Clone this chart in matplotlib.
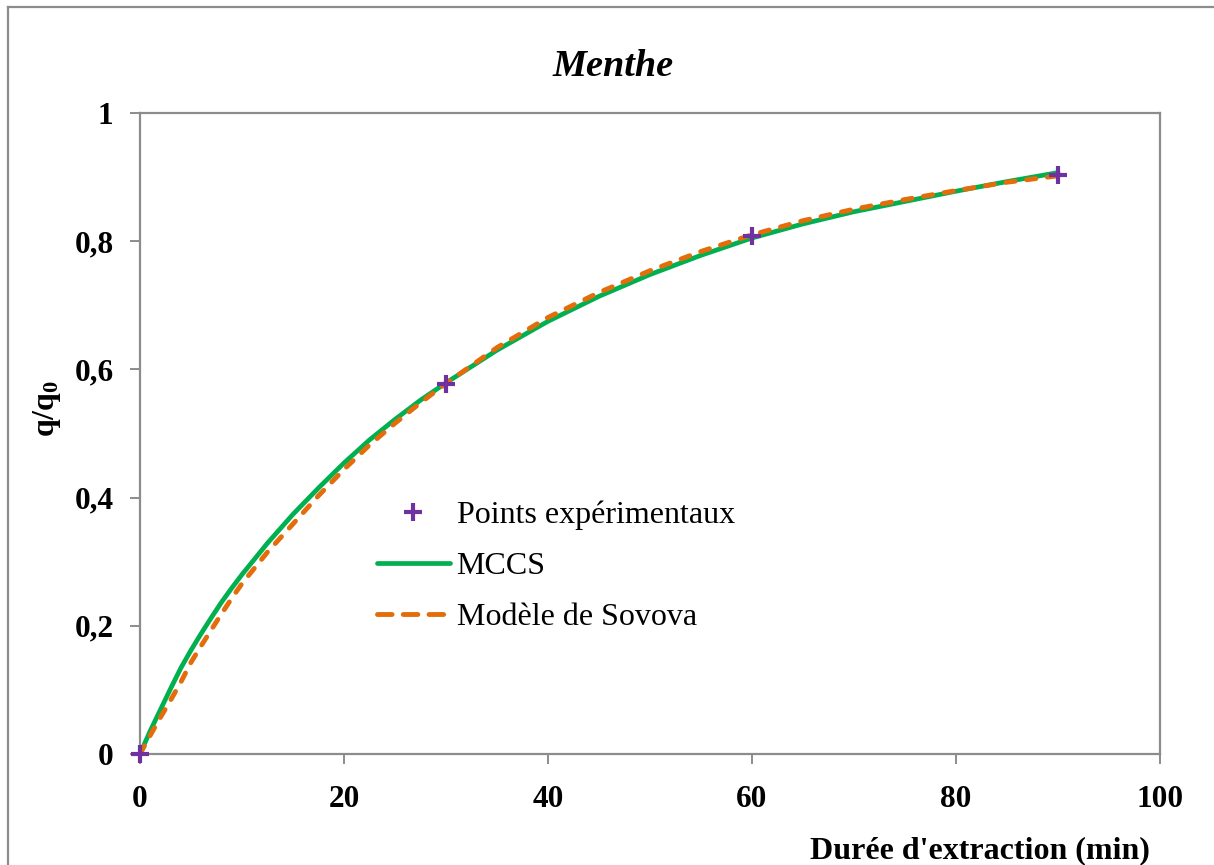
import matplotlib
matplotlib.use("Agg")
import matplotlib.pyplot as plt
from matplotlib.lines import Line2D

# Extraction time (min) and reduced yield q/q0
t_exp = [0, 30, 60, 90]
q_exp = [0.0, 0.578, 0.808, 0.903]

t_model = [0, 1, 2, 3, 4, 5, 6, 7, 8, 9, 10, 12.5, 15, 17.5, 20, 22.5, 25, 27.5, 30,
           35, 40, 45, 50, 55, 60, 65, 70, 75, 80, 85, 90]
q_mccs = [0.0, 0.036, 0.069, 0.102, 0.134, 0.162, 0.188, 0.213, 0.237, 0.259, 0.280,
          0.329, 0.374, 0.415, 0.454, 0.490, 0.522, 0.552, 0.579,
          0.630, 0.675, 0.714, 0.748, 0.778, 0.805, 0.827, 0.846, 0.862, 0.878, 0.893, 0.907]
q_sovova = [0.0, 0.029, 0.057, 0.084, 0.112, 0.143, 0.169, 0.194, 0.219, 0.243, 0.266,
            0.315, 0.359, 0.403, 0.444, 0.482, 0.516, 0.548, 0.578,
            0.634, 0.681, 0.720, 0.754, 0.784, 0.810, 0.832, 0.850, 0.865, 0.879, 0.892, 0.902]

x_ticks = [0, 20, 40, 60, 80, 100]
y_ticks = [0, 0.2, 0.4, 0.6, 0.8, 1.0]
y_tick_labels = ["0", "0,2", "0,4", "0,6", "0,8", "1"]

plt.rcParams["font.family"] = ["Liberation Serif", "DejaVu Serif"]
plt.rcParams["mathtext.fontset"] = "custom"
plt.rcParams["mathtext.rm"] = "Liberation Serif"
plt.rcParams["mathtext.bf"] = "Liberation Serif:bold"
plt.rcParams["mathtext.it"] = "Liberation Serif:italic"

GREEN = "#00B050"
ORANGE = "#E46C0A"
PURPLE = "#7030A0"
GREY = "#8C8C8C"

W, H = 1214, 865
fig = plt.figure(figsize=(W / 100, H / 100), dpi=100)
ax = fig.add_axes([140 / W, 1 - 754 / H, 1020 / W, 641 / H])

DASH = (0, (1.9, 2.4))
ax.plot(t_model, q_mccs, color=GREEN, lw=3.4, solid_capstyle="round",
        solid_joinstyle="round", label="MCCS", zorder=2)
ax.plot(t_model, q_sovova, color=ORANGE, lw=3.5, linestyle=DASH,
        dash_capstyle="round", dash_joinstyle="round", label="Modèle de Sovova", zorder=3)
ax.plot(t_exp, q_exp, linestyle="none", marker="+", markersize=13, markeredgewidth=3.0,
        color=PURPLE, label="Points expérimentaux", zorder=4, clip_on=False)

ax.set_xlim(0, 100)
ax.set_ylim(0, 1)
ax.set_xticks(x_ticks)
ax.set_xticklabels([str(v) for v in x_ticks])
ax.set_yticks(y_ticks)
ax.set_yticklabels(y_tick_labels)

for s in ax.spines.values():
    s.set_color(GREY)
    s.set_linewidth(1.6)
ax.tick_params(axis="both", direction="out", length=7, width=1.4, color=GREY,
               labelsize=22.5, labelcolor="black")
ax.tick_params(axis="x", pad=15)
ax.tick_params(axis="y", pad=12)
for lab in ax.get_xticklabels() + ax.get_yticklabels():
    lab.set_fontweight("bold")

# Legend: marker, solid line, dashed line
handles = [
    Line2D([], [], linestyle="none", marker="+", markersize=13, markeredgewidth=3.0, color=PURPLE),
    Line2D([], [], color=GREEN, lw=3.4, solid_capstyle="round"),
    Line2D([], [], color=ORANGE, lw=3.5, linestyle=(0, (3.0, 2.3)), dash_capstyle="round"),
]
labels = ["Points expérimentaux", "MCCS", "Modèle de Sovova"]
ax.legend(handles, labels, loc="center left", bbox_to_anchor=(0.232, 0.293),
          frameon=False, fontsize=23, handlelength=2.3, handletextpad=0.2,
          labelspacing=0.67, borderpad=0, borderaxespad=0)

fig.text(613 / W, 1 - 67 / H, "Menthe", ha="center", va="center",
         fontsize=27.5, fontweight="bold", fontstyle="italic")
fig.text(1150 / W, 1 - 851 / H, "Durée d'extraction (min)", ha="right", va="center",
         fontsize=23, fontweight="bold")
fig.text(47 / W, 1 - 408 / H, r"$\mathbf{q/q_0}$", ha="center", va="center",
         rotation=90, fontsize=23)

# Chart area border
fig.add_artist(Line2D([8 / W, 8 / W], [0, 1 - 7 / H], color=GREY, lw=1.6))
fig.add_artist(Line2D([8 / W, 1], [1 - 7 / H, 1 - 7 / H], color=GREY, lw=1.6))

fig.savefig("out.png", dpi=100)
